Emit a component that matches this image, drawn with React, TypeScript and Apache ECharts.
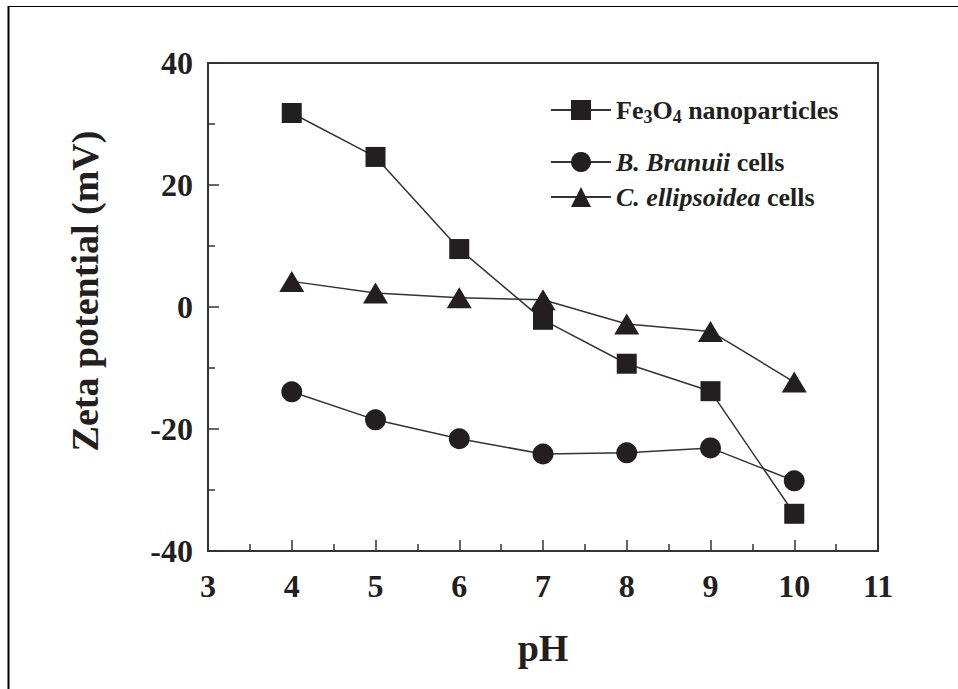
import React, { useEffect, useRef } from "react";
import * as echarts from "echarts";

const pH = [4, 5, 6, 7, 8, 9, 10];
const fe3o4 = [31.8, 24.6, 9.5, -2.1, -9.3, -13.8, -33.9];
const branuii = [-13.9, -18.5, -21.6, -24.1, -23.9, -23.1, -28.5];
const ellipsoidea = [4.2, 2.3, 1.5, 1.2, -2.8, -4.0, -12.3];
const seriesNames = ["Fe3O4 nanoparticles", "B. Branuii cells", "C. ellipsoidea cells"];

const FONT = "Liberation Serif";
const INK = "#231f20";
const AXIS = "#333333";

export default function App() {
  const ref = useRef<HTMLDivElement>(null);
  useEffect(() => {
    if (!ref.current) return;
    const chart = echarts.init(ref.current, null, { renderer: "svg" });
    const pair = (ys: number[]) => pH.map((x, i) => [x, ys[i]]);
    const lineStyle = { color: AXIS, width: 1.5 };
    const legendBase = {
      orient: "vertical" as const,
      left: 550,
      padding: 0,
      itemWidth: 60,
      itemHeight: 25,
      itemGap: 0,
      textStyle: {
        fontFamily: FONT,
        fontWeight: "bold" as const,
        fontSize: 26,
        color: INK,
        rich: {
          sub: { fontFamily: FONT, fontWeight: "bold" as const, fontSize: 18, color: INK, padding: [13, 0, 0, 0] },
          it: { fontFamily: FONT, fontWeight: "bold" as const, fontStyle: "italic" as const, fontSize: 26, color: INK },
          n: { fontFamily: FONT, fontWeight: "bold" as const, fontSize: 26, color: INK },
        },
      },
    };
    chart.setOption({
      animation: false,
      backgroundColor: "#ffffff",
      textStyle: { fontFamily: FONT },
      grid: {
        left: 208,
        right: 80,
        top: 63,
        bottom: 138,
        show: true,
        borderColor: AXIS,
        borderWidth: 2,
        containLabel: false,
      },
      legend: [
        {
          ...legendBase,
          top: 97,
          data: [seriesNames[0]],
          formatter: () => "{n|Fe}{sub|3}{n|O}{sub|4}{n| nanoparticles}",
        },
        {
          ...legendBase,
          top: 149,
          data: [seriesNames[1]],
          formatter: () => "{it|B. Branuii}{n| cells}",
        },
        {
          ...legendBase,
          top: 184,
          data: [seriesNames[2]],
          formatter: () => "{it|C. ellipsoidea}{n| cells}",
        },
      ],
      xAxis: {
        type: "value",
        min: 3,
        max: 11,
        interval: 1,
        name: "pH",
        nameLocation: "middle",
        nameGap: 78,
        nameTextStyle: { fontFamily: FONT, fontWeight: "bold", fontSize: 38, color: INK },
        axisLine: { show: true, onZero: false, lineStyle: { color: AXIS, width: 2 } },
        axisTick: { show: true, inside: true, length: 11, lineStyle: { color: AXIS, width: 1.5 } },
        minorTick: { show: true, splitNumber: 2, length: 7, lineStyle: { color: AXIS, width: 1.5 } },
        splitLine: { show: false },
        axisLabel: { fontFamily: FONT, fontWeight: "bold", fontSize: 32, color: INK, margin: 19 },
      },
      yAxis: {
        type: "value",
        min: -40,
        max: 40,
        interval: 20,
        name: "Zeta potential (mV)",
        nameLocation: "middle",
        nameGap: 104,
        nameTextStyle: {
          fontFamily: FONT,
          fontWeight: "bold",
          fontSize: 38,
          color: INK,
          padding: [0, 0, 0, 32],
        },
        axisLine: { show: true, onZero: false, lineStyle: { color: AXIS, width: 2 } },
        axisTick: { show: true, inside: true, length: 11, lineStyle: { color: AXIS, width: 1.5 } },
        minorTick: { show: true, splitNumber: 2, length: 7, lineStyle: { color: AXIS, width: 1.5 } },
        splitLine: { show: false },
        axisLabel: { fontFamily: FONT, fontWeight: "bold", fontSize: 32, color: INK, margin: 15 },
      },
      series: [
        {
          name: seriesNames[0],
          type: "line",
          data: pair(fe3o4),
          symbol: "rect",
          symbolSize: 20,
          itemStyle: { color: INK },
          lineStyle,
        },
        {
          name: seriesNames[1],
          type: "line",
          data: pair(branuii),
          symbol: "circle",
          symbolSize: 21,
          itemStyle: { color: INK },
          lineStyle,
        },
        {
          name: seriesNames[2],
          type: "line",
          data: pair(ellipsoidea),
          symbol: "triangle",
          symbolSize: [25, 21],
          itemStyle: { color: INK },
          lineStyle,
        },
      ],
      graphic: [
        { type: "line", shape: { x1: 8.5, y1: 6, x2: 8.5, y2: 689 }, style: { stroke: "#000", lineWidth: 2 } },
        { type: "line", shape: { x1: 8, y1: 6.5, x2: 958, y2: 6.5 }, style: { stroke: "#000", lineWidth: 1.2 } },
      ],
    });
    return () => chart.dispose();
  }, []);
  return (
    <div
      ref={ref}
      style={{ position: "absolute", left: 0, top: 0, width: 958, height: 689 }}
    />
  );
}
